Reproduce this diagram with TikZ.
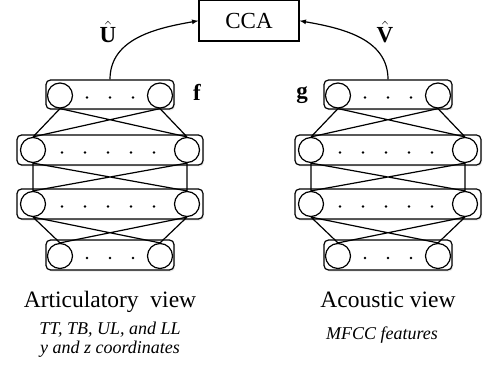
\documentclass[tikz,border=0pt]{standalone}
\usepackage{amsmath}
\usepackage{fontspec}
\setmainfont{Liberation Serif}
\usetikzlibrary{arrows,shadows}

\begin{document}
\begin{tikzpicture}[x=1pt,y=1pt,
    layer/.style={draw,line width=1.2pt,rounded corners=4.5pt,fill=white,inner sep=0pt,
      drop shadow={opacity=0.18,shadow xshift=1.2pt,shadow yshift=-1.5pt}},
    unit/.style={draw,circle,line width=1.2pt,minimum size=25pt,inner sep=0pt},
    link/.style={line width=1.2pt},
    big/.style={font=\fontsize{23.5}{26}\selectfont,anchor=base},
    small/.style={font=\fontsize{18}{20}\selectfont\itshape,anchor=base},
    hatlabel/.style={font=\fontsize{23}{26}\selectfont,anchor=base}]
    \useasboundingbox (0,0) rectangle (484,-374);
    %cca box
    \node[draw,line width=1.2pt,minimum width=100pt,minimum height=40.5pt,
      font=\fontsize{23}{26}\selectfont] (cca) at (249,-20.75) {CCA};
    %articulatory view
    \node[layer,minimum width=128pt,minimum height=29pt] (f1) at (110,-94.5) {};
    \node[layer,minimum width=186pt,minimum height=30pt] (f2) at (110,-150) {};
    \node[layer,minimum width=186pt,minimum height=30pt] (f3) at (110,-204) {};
    \node[layer,minimum width=128pt,minimum height=30pt] (f4) at (110,-255) {};
    \node[unit] (f1a) at (60,-95.5) {};  \node[unit] (f1b) at (160,-95.5) {};
    \node[unit] (f2a) at (33,-150) {};   \node[unit] (f2b) at (187,-150) {};
    \node[unit] (f3a) at (33,-204) {};   \node[unit] (f3b) at (187,-204) {};
    \node[unit] (f4a) at (60,-256) {};   \node[unit] (f4b) at (160,-256) {};
    %acoustic view
    \node[layer,minimum width=128pt,minimum height=29pt] (g1) at (388,-94.5) {};
    \node[layer,minimum width=186pt,minimum height=30pt] (g2) at (388,-150) {};
    \node[layer,minimum width=186pt,minimum height=30pt] (g3) at (388,-204) {};
    \node[layer,minimum width=128pt,minimum height=30pt] (g4) at (388,-255) {};
    \node[unit] (g1a) at (338,-95.5) {}; \node[unit] (g1b) at (438,-95.5) {};
    \node[unit] (g2a) at (311,-150) {};  \node[unit] (g2b) at (465,-150) {};
    \node[unit] (g3a) at (311,-204) {};  \node[unit] (g3b) at (465,-204) {};
    \node[unit] (g4a) at (338,-256) {};  \node[unit] (g4b) at (438,-256) {};
    %dots
    \fill (87,-97.5) circle (1.3pt) (110,-97.5) circle (1.3pt) (133,-97.5) circle (1.3pt);
    \fill (62,-152.5) circle (1.3pt) (85,-152.5) circle (1.3pt) (108,-152.5) circle (1.3pt) (131,-152.5) circle (1.3pt) (154,-152.5) circle (1.3pt);
    \fill (62,-206.5) circle (1.3pt) (85,-206.5) circle (1.3pt) (108,-206.5) circle (1.3pt) (131,-206.5) circle (1.3pt) (154,-206.5) circle (1.3pt);
    \fill (87,-258) circle (1.3pt) (110,-258) circle (1.3pt) (133,-258) circle (1.3pt);
    \fill (365,-97.5) circle (1.3pt) (388,-97.5) circle (1.3pt) (411,-97.5) circle (1.3pt);
    \fill (340,-152.5) circle (1.3pt) (363,-152.5) circle (1.3pt) (386,-152.5) circle (1.3pt) (409,-152.5) circle (1.3pt) (432,-152.5) circle (1.3pt);
    \fill (340,-206.5) circle (1.3pt) (363,-206.5) circle (1.3pt) (386,-206.5) circle (1.3pt) (409,-206.5) circle (1.3pt) (432,-206.5) circle (1.3pt);
    \fill (365,-258) circle (1.3pt) (388,-258) circle (1.3pt) (411,-258) circle (1.3pt);
    %links
    \draw[link] (f1a.south) -- (f2a.north) (f1a.south) -- (f2b.north) (f1b.south) -- (f2a.north) (f1b.south) -- (f2b.north);
    \draw[link] (f2a.south) -- (f3a.north) (f2a.south) -- (f3b.north) (f2b.south) -- (f3a.north) (f2b.south) -- (f3b.north);
    \draw[link] (f3a.south) -- (f4a.north) (f3a.south) -- (f4b.north) (f3b.south) -- (f4a.north) (f3b.south) -- (f4b.north);
    \draw[link] (g1a.south) -- (g2a.north) (g1a.south) -- (g2b.north) (g1b.south) -- (g2a.north) (g1b.south) -- (g2b.north);
    \draw[link] (g2a.south) -- (g3a.north) (g2a.south) -- (g3b.north) (g2b.south) -- (g3a.north) (g2b.south) -- (g3b.north);
    \draw[link] (g3a.south) -- (g4a.north) (g3a.south) -- (g4b.north) (g3b.south) -- (g4a.north) (g3b.south) -- (g4b.north);
    %arrows
    \draw[link,-latex] (f1.north) to[out=90,in=190] (cca.west);
    \draw[link,-latex] (g1.north) to[out=90,in=-10] (cca.east);
    %labels
    \node[hatlabel] at (108,-43) {$\hat{\mbox{\bfseries U}}$};
    \node[hatlabel] at (385,-43) {$\hat{\mbox{\bfseries V}}$};
    \node[font=\fontsize{23}{26}\selectfont\bfseries,anchor=base] at (197,-101) {f};
    \node[font=\fontsize{23}{26}\selectfont\bfseries,anchor=base] at (302,-99) {g};
    \node[big] at (110,-307) {Articulatory~ view};
    \node[big] at (388,-307) {Acoustic view};
    \node[small] at (110,-334) {TT, TB, UL, and LL};
    \node[small] at (110,-353) {y and z coordinates};
    \node[small] at (382,-339) {MFCC features};
\end{tikzpicture}
\end{document}
